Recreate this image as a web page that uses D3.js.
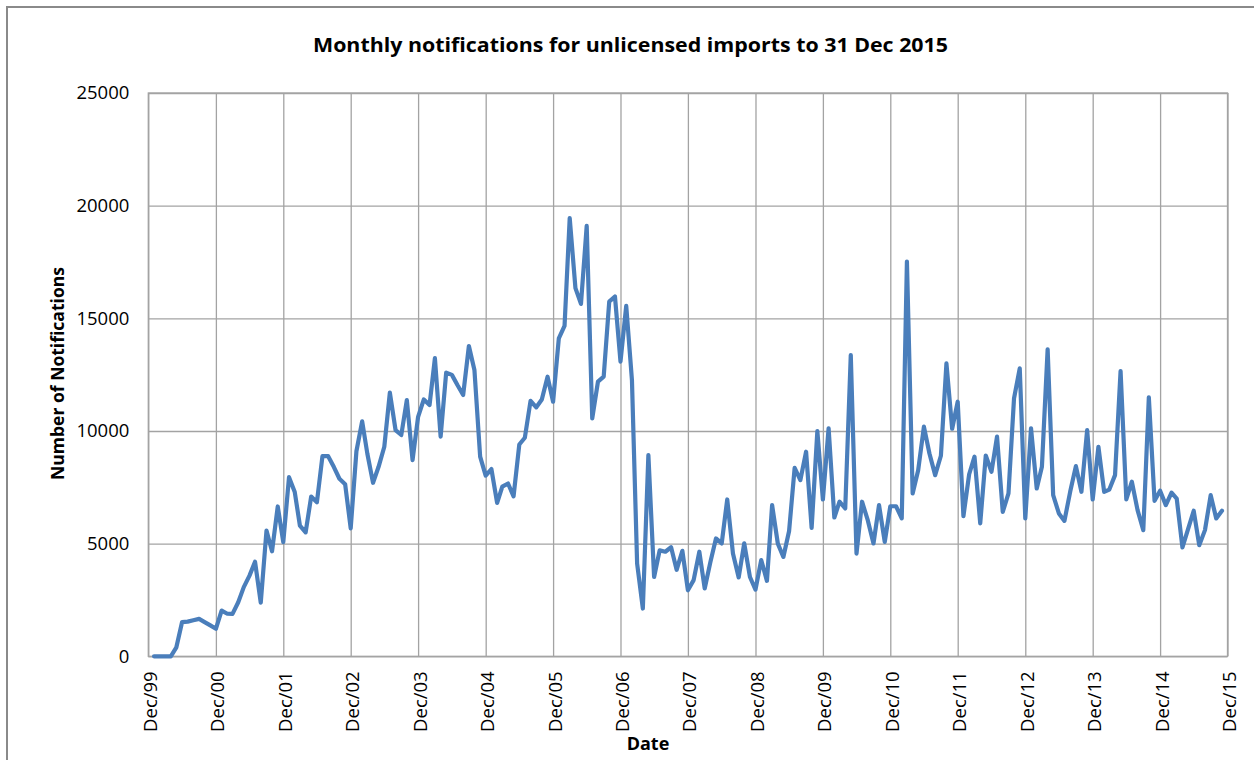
<!DOCTYPE html>
<html>
<head>
<meta charset="utf-8">
<script src="https://cdn.jsdelivr.net/npm/d3@7"></script>
<style>
  html, body { margin: 0; padding: 0; background: #fff; }
  svg { display: block; }
  text { font-family: "Open Sans", "Liberation Sans", sans-serif; fill: #000; }
</style>
</head>
<body>
<svg id="chart" width="1254" height="760"></svg>
<script>
// ---- data ----
const title = "Monthly notifications for unlicensed imports to 31 Dec 2015";
const xTitle = "Date";
const yTitle = "Number of Notifications";
const firstMonth = "2000-01"; // first monthly observation (Jan 2000)
const tickLabels = ["Dec/99","Dec/00","Dec/01","Dec/02","Dec/03","Dec/04","Dec/05","Dec/06",
  "Dec/07","Dec/08","Dec/09","Dec/10","Dec/11","Dec/12","Dec/13","Dec/14","Dec/15"];
const yTicks = [0, 5000, 10000, 15000, 20000, 25000];
const notifications = [
  0, 0, 0, 0, 400, 1520, 1540, 1600, 1660, 1520, 1370, 1220,
  2030, 1890, 1880, 2400, 3070, 3580, 4200, 2380, 5580, 4660, 6650, 5070,
  7950, 7290, 5800, 5500, 7090, 6840, 8880, 8880, 8400, 7880, 7640, 5680,
  9100, 10430, 9000, 7700, 8410, 9300, 11700, 10040, 9820, 11370, 8710, 10630,
  11400, 11150, 13230, 9750, 12590, 12490, 12040, 11600, 13770, 12710, 8860, 8020,
  8310, 6810, 7530, 7670, 7100, 9400, 9700, 11340, 11050, 11400, 12410, 11300,
  14110, 14660, 19450, 16340, 15640, 19100, 10560, 12190, 12410, 15740, 15970, 13080,
  15550, 12260, 4120, 2120, 8930, 3520, 4700, 4640, 4840, 3840, 4680, 2930,
  3380, 4640, 3010, 4190, 5230, 5010, 6960, 4560, 3500, 5010, 3520, 2960,
  4270, 3350, 6710, 5000, 4410, 5560, 8360, 7820, 9080, 5700, 9990, 6960,
  10120, 6160, 6860, 6560, 13370, 4560, 6860, 6040, 5010, 6710, 5080, 6660,
  6660, 6120, 17520, 7230, 8260, 10190, 9000, 8040, 8900, 13000, 10100, 11300,
  6220, 8080, 8860, 5900, 8910, 8190, 9750, 6410, 7230, 11450, 12780, 6120,
  10120, 7450, 8410, 13620, 7150, 6340, 6010, 7300, 8440, 7300, 10040, 6960,
  9300, 7300, 7400, 8040, 12660, 6960, 7750, 6490, 5600, 11490, 6900, 7350,
  6710, 7260, 7000, 4830, 5630, 6460, 4930, 5600, 7150, 6120, 6460
];

// ---- build ----
const parseTick = d3.timeParse("%b/%y");
const parseMonth = d3.timeParse("%Y-%m");
const start = parseMonth(firstMonth);
const series = notifications.map((v, i) => ({ date: d3.timeMonth.offset(start, i), value: v }));
const tickDates = tickLabels.map(parseTick);

const svg = d3.select("#chart");
const W = 1254, H = 760;
const plot = { left: 148.3, right: 1227.5, top: 93, bottom: 656.3 };

svg.append("rect").attr("width", W).attr("height", H).attr("fill", "#fff");
// outer chart frame
svg.append("rect").attr("x", 7).attr("y", 7).attr("width", W + 20).attr("height", H + 20)
  .attr("fill", "none").attr("stroke", "#8a8a8a").attr("stroke-width", 2);

const x = d3.scaleTime()
  .domain([tickDates[0], tickDates[tickDates.length - 1]])
  .range([plot.left, plot.right]);
const y = d3.scaleLinear().domain([0, 25000]).range([plot.bottom, plot.top]);

const gridColor = "#a3a3a3";

// horizontal gridlines + y labels
const yAxis = svg.append("g")
  .attr("transform", `translate(${plot.left},0)`)
  .call(d3.axisLeft(y).tickValues(yTicks).tickSize(-(plot.right - plot.left)).tickPadding(19).tickFormat(d3.format("d")));
yAxis.select(".domain").remove();
yAxis.selectAll(".tick line").attr("stroke", gridColor).attr("stroke-width", 1.3);
yAxis.selectAll(".tick text").attr("font-size", 18.5).attr("fill", "#000")
  .attr("font-family", "'Open Sans', 'Liberation Sans', sans-serif");

// vertical gridlines + x labels
const xAxis = svg.append("g")
  .attr("transform", `translate(0,${plot.bottom})`)
  .call(d3.axisBottom(x).tickValues(tickDates).tickSize(-(plot.bottom - plot.top))
    .tickFormat((d, i) => tickLabels[i]));
xAxis.select(".domain").remove();
xAxis.selectAll(".tick line").attr("stroke", gridColor).attr("stroke-width", 1.3);
xAxis.selectAll(".tick text")
  .attr("font-size", 18.5).attr("fill", "#000")
  .attr("text-anchor", "end")
  .attr("transform", "rotate(-90)")
  .attr("x", -15).attr("y", 1.5).attr("dy", "0.35em");

// plot frame
svg.append("rect").attr("x", plot.left).attr("y", plot.top)
  .attr("width", plot.right - plot.left).attr("height", plot.bottom - plot.top)
  .attr("fill", "none").attr("stroke", gridColor).attr("stroke-width", 1.3);

// line
const line = d3.line().x(d => x(d.date)).y(d => y(d.value));
svg.append("path").datum(series)
  .attr("d", line)
  .attr("fill", "none")
  .attr("stroke", "#4a7ebb")
  .attr("stroke-width", 4.2)
  .attr("stroke-linejoin", "round")
  .attr("stroke-linecap", "round");

// titles
svg.append("text").attr("x", 630.5).attr("y", 52)
  .attr("text-anchor", "middle").attr("font-weight", "bold").attr("font-size", 20)
  .attr("textLength", 635).attr("lengthAdjust", "spacingAndGlyphs")
  .text(title);

svg.append("text").attr("x", 648).attr("y", 750)
  .attr("text-anchor", "middle").attr("font-weight", "bold").attr("font-size", 18)
  .text(xTitle);

svg.append("text")
  .attr("transform", "translate(64,373.5) rotate(-90)")
  .attr("text-anchor", "middle").attr("font-weight", "bold").attr("font-size", 18)
  .attr("textLength", 213).attr("lengthAdjust", "spacingAndGlyphs")
  .text(yTitle);
</script>
</body>
</html>
